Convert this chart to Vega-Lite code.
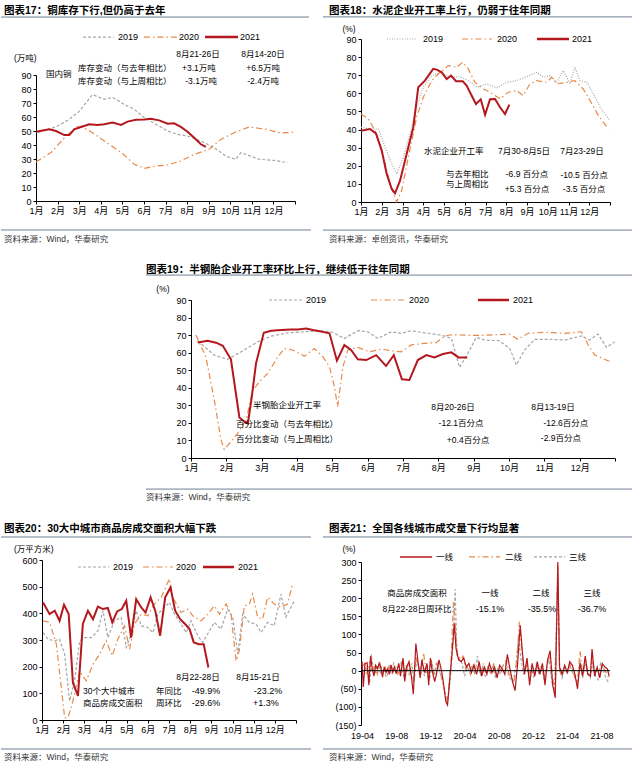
{
"$schema": "https://vega.github.io/schema/vega-lite/v6.json",
"background": "white",
"padding": {"left": 0, "top": 5, "right": 0, "bottom": 0},
"columns": 2,
"spacing": {"row": 97, "column": 65},
"bounds": "flush",
"align": "all",
"config": {
 "view": {"stroke": null},
 "axis": {"grid": false, "title": null, "labelFont": "Liberation Sans, Noto Sans CJK SC", "labelFontSize": 9, "labelColor": "#000", "domainColor": "#000", "tickColor": "#000", "tickSize": 3, "labelPadding": 2, "labelOverlap": false, "labelFlush": false},
 "text": {"font": "Liberation Sans, Noto Sans CJK SC", "fontSize": 8.5, "fill": "#000", "baseline": "middle"},
 "line": {"strokeWidth": 1.2}
},
"datasets": {
 "one": [{"k": 1}],
 "p17_2019": [{"x":0.08,"y":48.8},{"x":0.93,"y":53},{"x":1.47,"y":57.6},{"x":2.0,"y":64},{"x":2.62,"y":76},{"x":3.16,"y":72.6},{"x":3.55,"y":74},{"x":4.09,"y":69},{"x":4.55,"y":65.5},{"x":5.02,"y":59.5},{"x":5.56,"y":54.8},{"x":6.1,"y":50},{"x":6.56,"y":47.6},{"x":7.02,"y":46.4},{"x":7.64,"y":42.9},{"x":8.26,"y":38},{"x":8.8,"y":32},{"x":9.26,"y":29.8},{"x":9.49,"y":34.5},{"x":9.8,"y":32.9},{"x":10.34,"y":29.8},{"x":11.03,"y":29},{"x":11.65,"y":27.4}],
 "p17_2020": [{"x":0,"y":27.9},{"x":0.69,"y":34.5},{"x":1.31,"y":45},{"x":1.85,"y":52.9},{"x":2.16,"y":52.9},{"x":2.62,"y":48.8},{"x":3.16,"y":42.9},{"x":3.63,"y":38},{"x":4.09,"y":32.9},{"x":4.55,"y":26.2},{"x":5.02,"y":23.3},{"x":5.56,"y":25},{"x":6.1,"y":25.7},{"x":6.71,"y":28.6},{"x":7.33,"y":33.3},{"x":8.02,"y":36.9},{"x":8.56,"y":44},{"x":9.18,"y":48.8},{"x":9.88,"y":52.9},{"x":10.34,"y":51.9},{"x":10.73,"y":51.2},{"x":11.19,"y":48.8},{"x":11.65,"y":48.8},{"x":11.96,"y":49.3}],
 "p17_2021": [{"x":0,"y":49.5},{"x":0.62,"y":51.2},{"x":0.93,"y":50},{"x":1.31,"y":47.1},{"x":1.54,"y":47.1},{"x":1.77,"y":51.2},{"x":2.08,"y":52.9},{"x":2.47,"y":54.8},{"x":2.85,"y":54.3},{"x":3.16,"y":54.8},{"x":3.55,"y":56},{"x":3.94,"y":54.3},{"x":4.24,"y":56.7},{"x":4.63,"y":58.1},{"x":5.02,"y":58.3},{"x":5.32,"y":58.8},{"x":5.71,"y":57.6},{"x":6.1,"y":55.2},{"x":6.4,"y":55.5},{"x":6.71,"y":52.9},{"x":7.02,"y":49.5},{"x":7.33,"y":45.2},{"x":7.64,"y":40.5},{"x":7.87,"y":38.6}],
 "p18_2019": [{"x":0,"y":41.3},{"x":0.43,"y":40.3},{"x":0.84,"y":40.3},{"x":1.16,"y":30.2},{"x":1.48,"y":21},{"x":1.72,"y":15.5},{"x":2.04,"y":24.7},{"x":2.36,"y":37.6},{"x":2.68,"y":52.3},{"x":3.0,"y":63.4},{"x":3.41,"y":69.8},{"x":3.81,"y":71.6},{"x":4.29,"y":68.9},{"x":4.77,"y":69.2},{"x":5.17,"y":67},{"x":5.57,"y":63.4},{"x":6.06,"y":65.2},{"x":6.54,"y":63},{"x":7.02,"y":66.1},{"x":7.5,"y":67},{"x":7.98,"y":69.2},{"x":8.47,"y":71.6},{"x":8.79,"y":68.9},{"x":9.11,"y":69.8},{"x":9.43,"y":66.1},{"x":9.75,"y":72.6},{"x":10.07,"y":65.2},{"x":10.31,"y":74.4},{"x":10.55,"y":67},{"x":10.88,"y":66.1},{"x":11.2,"y":59.7},{"x":11.53,"y":52.3},{"x":12.0,"y":44.9}],
 "p18_2020": [{"x":0,"y":48.6},{"x":0.35,"y":45.9},{"x":0.72,"y":38.5},{"x":1.08,"y":24.7},{"x":1.4,"y":9.9},{"x":1.72,"y":0},{"x":1.96,"y":6.3},{"x":2.28,"y":24.7},{"x":2.68,"y":46.8},{"x":3.0,"y":57.8},{"x":3.41,"y":67},{"x":3.81,"y":71.6},{"x":4.21,"y":75.3},{"x":4.61,"y":74.4},{"x":4.9,"y":77.2},{"x":5.17,"y":73.5},{"x":5.49,"y":66.1},{"x":5.9,"y":62.4},{"x":6.22,"y":60.6},{"x":6.7,"y":56.9},{"x":7.1,"y":60.6},{"x":7.5,"y":61.5},{"x":7.82,"y":58.8},{"x":8.14,"y":65.2},{"x":8.47,"y":67},{"x":8.95,"y":66.1},{"x":9.19,"y":68.9},{"x":9.43,"y":65.2},{"x":9.91,"y":66.1},{"x":10.31,"y":67},{"x":10.71,"y":62.4},{"x":11.04,"y":56},{"x":11.44,"y":47.7},{"x":11.92,"y":40.3}],
 "p18_2021": [{"x":0,"y":39.4},{"x":0.43,"y":40.3},{"x":0.72,"y":37.9},{"x":1.0,"y":28.4},{"x":1.24,"y":15.5},{"x":1.48,"y":7.2},{"x":1.64,"y":4.8},{"x":1.88,"y":11.8},{"x":2.2,"y":26.5},{"x":2.52,"y":41.3},{"x":2.76,"y":63.4},{"x":3.08,"y":67},{"x":3.48,"y":73.5},{"x":3.65,"y":73.1},{"x":3.89,"y":71.6},{"x":4.13,"y":67.9},{"x":4.34,"y":69.8},{"x":4.58,"y":66.7},{"x":4.9,"y":66.7},{"x":5.09,"y":64.3},{"x":5.33,"y":58.8},{"x":5.54,"y":54.1},{"x":5.77,"y":56.7},{"x":5.98,"y":48.2},{"x":6.22,"y":56.7},{"x":6.46,"y":56.9},{"x":6.7,"y":52.3},{"x":6.94,"y":48.6},{"x":7.15,"y":53.8}],
 "p19_2019": [{"x":0.19,"y":66.6},{"x":0.66,"y":58.6},{"x":1.04,"y":56.2},{"x":1.42,"y":60.5},{"x":1.89,"y":66.2},{"x":2.27,"y":69.4},{"x":2.74,"y":71.3},{"x":3.21,"y":71.9},{"x":3.68,"y":72.5},{"x":3.97,"y":71.9},{"x":4.34,"y":68.1},{"x":4.72,"y":72.5},{"x":5.0,"y":71.9},{"x":5.29,"y":68.1},{"x":5.67,"y":71.9},{"x":5.95,"y":71},{"x":6.23,"y":72.5},{"x":6.61,"y":71.3},{"x":7.08,"y":70},{"x":7.37,"y":68.2},{"x":7.6,"y":51.6},{"x":7.84,"y":59.6},{"x":8.07,"y":68.7},{"x":8.31,"y":67.2},{"x":8.72,"y":66.8},{"x":9.02,"y":62.5},{"x":9.21,"y":53},{"x":9.44,"y":61.5},{"x":9.73,"y":67.6},{"x":10.1,"y":67.6},{"x":10.58,"y":67.2},{"x":11.05,"y":69.5},{"x":11.28,"y":67.2},{"x":11.52,"y":70.6},{"x":11.76,"y":63},{"x":11.99,"y":66.2}],
 "p19_2020": [{"x":0.14,"y":70},{"x":0.42,"y":57.7},{"x":0.66,"y":33},{"x":0.85,"y":10.2},{"x":0.94,"y":4.9},{"x":1.13,"y":9.3},{"x":1.32,"y":14},{"x":1.56,"y":21.6},{"x":1.75,"y":38.7},{"x":1.98,"y":44.4},{"x":2.17,"y":48.2},{"x":2.46,"y":57.7},{"x":2.64,"y":62.4},{"x":2.88,"y":61.5},{"x":3.21,"y":58},{"x":3.49,"y":62.4},{"x":3.73,"y":57.7},{"x":3.92,"y":52},{"x":4.06,"y":40.6},{"x":4.15,"y":29.2},{"x":4.3,"y":52},{"x":4.44,"y":61.5},{"x":4.72,"y":63},{"x":5.05,"y":60.5},{"x":5.38,"y":62},{"x":5.67,"y":61.1},{"x":5.95,"y":60.5},{"x":6.23,"y":64.4},{"x":6.61,"y":65.3},{"x":6.94,"y":65.7},{"x":7.18,"y":69.5},{"x":7.37,"y":70.2},{"x":7.84,"y":69.9},{"x":8.31,"y":69.9},{"x":9.02,"y":70.6},{"x":9.25,"y":67.6},{"x":9.54,"y":71},{"x":10.01,"y":71.6},{"x":10.58,"y":71},{"x":11.05,"y":71.9},{"x":11.24,"y":64.4},{"x":11.43,"y":58.7},{"x":11.8,"y":55.4},{"x":11.9,"y":54.8}],
 "p19_2021": [{"x":0.19,"y":65.8},{"x":0.47,"y":66.8},{"x":0.71,"y":65.7},{"x":0.9,"y":63.9},{"x":1.13,"y":56.2},{"x":1.37,"y":23.1},{"x":1.51,"y":20.7},{"x":1.61,"y":19.7},{"x":1.72,"y":34.9},{"x":1.84,"y":53.9},{"x":2.06,"y":71.3},{"x":2.27,"y":72.5},{"x":2.55,"y":72.9},{"x":2.83,"y":73.2},{"x":3.02,"y":73.2},{"x":3.26,"y":73.8},{"x":3.45,"y":72.9},{"x":3.68,"y":72.1},{"x":3.92,"y":71},{"x":4.13,"y":55.4},{"x":4.34,"y":64.3},{"x":4.53,"y":61.5},{"x":4.72,"y":56.2},{"x":4.96,"y":55.8},{"x":5.24,"y":58.6},{"x":5.52,"y":52.4},{"x":5.74,"y":58.6},{"x":5.97,"y":44.8},{"x":6.18,"y":44.4},{"x":6.42,"y":55.8},{"x":6.66,"y":58.6},{"x":6.89,"y":57.3},{"x":7.13,"y":59.2},{"x":7.37,"y":60.2},{"x":7.57,"y":57.3},{"x":7.82,"y":57.3}],
 "p20_2019": [{"x":0.05,"y":328},{"x":0.28,"y":303},{"x":0.6,"y":297},{"x":0.83,"y":303},{"x":1.07,"y":247},{"x":1.3,"y":71},{"x":1.54,"y":147},{"x":1.78,"y":297},{"x":2.01,"y":309},{"x":2.33,"y":309},{"x":2.64,"y":334},{"x":2.88,"y":410},{"x":3.11,"y":309},{"x":3.43,"y":372},{"x":3.74,"y":385},{"x":3.98,"y":272},{"x":4.21,"y":322},{"x":4.45,"y":410},{"x":4.69,"y":353},{"x":5.0,"y":347},{"x":5.24,"y":328},{"x":5.47,"y":397},{"x":5.79,"y":422},{"x":6.02,"y":441},{"x":6.26,"y":397},{"x":6.57,"y":360},{"x":6.81,"y":328},{"x":7.04,"y":372},{"x":7.36,"y":316},{"x":7.59,"y":291},{"x":7.91,"y":334},{"x":8.14,"y":366},{"x":8.46,"y":341},{"x":8.77,"y":416},{"x":9.01,"y":385},{"x":9.25,"y":247},{"x":9.48,"y":397},{"x":9.8,"y":366},{"x":10.11,"y":360},{"x":10.35,"y":328},{"x":10.66,"y":366},{"x":10.97,"y":353},{"x":11.29,"y":472},{"x":11.52,"y":385},{"x":11.92,"y":447}],
 "p20_2020": [{"x":0.05,"y":372},{"x":0.36,"y":366},{"x":0.68,"y":284},{"x":0.91,"y":122},{"x":1.07,"y":9},{"x":1.23,"y":9},{"x":1.46,"y":71},{"x":1.78,"y":184},{"x":2.09,"y":147},{"x":2.41,"y":209},{"x":2.72,"y":247},{"x":3.03,"y":297},{"x":3.32,"y":241},{"x":3.58,"y":303},{"x":3.9,"y":353},{"x":4.14,"y":266},{"x":4.37,"y":360},{"x":4.69,"y":397},{"x":5.0,"y":391},{"x":5.31,"y":435},{"x":5.63,"y":460},{"x":6.02,"y":529},{"x":6.18,"y":460},{"x":6.57,"y":403},{"x":6.89,"y":416},{"x":7.12,"y":391},{"x":7.52,"y":372},{"x":7.83,"y":397},{"x":8.14,"y":428},{"x":8.38,"y":397},{"x":8.7,"y":435},{"x":8.93,"y":397},{"x":9.17,"y":222},{"x":9.32,"y":259},{"x":9.56,"y":428},{"x":9.8,"y":435},{"x":9.95,"y":472},{"x":10.19,"y":385},{"x":10.42,"y":378},{"x":10.66,"y":460},{"x":10.97,"y":435},{"x":11.29,"y":422},{"x":11.6,"y":435},{"x":11.84,"y":510}],
 "p20_2021": [{"x":0.05,"y":441},{"x":0.36,"y":397},{"x":0.6,"y":410},{"x":0.83,"y":372},{"x":1.04,"y":432},{"x":1.26,"y":397},{"x":1.46,"y":140},{"x":1.7,"y":90},{"x":1.93,"y":360},{"x":2.17,"y":410},{"x":2.41,"y":378},{"x":2.64,"y":425},{"x":2.88,"y":416},{"x":3.11,"y":420},{"x":3.32,"y":366},{"x":3.55,"y":407},{"x":3.77,"y":416},{"x":3.98,"y":447},{"x":4.21,"y":309},{"x":4.45,"y":453},{"x":4.69,"y":422},{"x":4.89,"y":403},{"x":5.13,"y":460},{"x":5.35,"y":410},{"x":5.58,"y":316},{"x":5.82,"y":460},{"x":6.07,"y":497},{"x":6.29,"y":410},{"x":6.53,"y":378},{"x":6.76,"y":360},{"x":6.97,"y":341},{"x":7.17,"y":291},{"x":7.41,"y":284},{"x":7.64,"y":284},{"x":7.86,"y":197}],
 "p21_t1": [{"x":0,"y":25},{"x":0.15,"y":-45},{"x":0.35,"y":20},{"x":0.6,"y":22},{"x":0.8,"y":-40},{"x":1.0,"y":40},{"x":1.2,"y":5},{"x":1.4,"y":-15},{"x":1.6,"y":15},{"x":1.8,"y":5},{"x":2.0,"y":20},{"x":2.2,"y":8},{"x":2.4,"y":-18},{"x":2.6,"y":10},{"x":2.8,"y":-5},{"x":3.0,"y":5},{"x":3.2,"y":-10},{"x":3.4,"y":15},{"x":3.6,"y":-5},{"x":3.8,"y":10},{"x":4.0,"y":-8},{"x":4.3,"y":20},{"x":4.5,"y":-15},{"x":4.8,"y":35},{"x":5.0,"y":-30},{"x":5.2,"y":10},{"x":5.5,"y":25},{"x":5.8,"y":-20},{"x":6.0,"y":-65},{"x":6.3,"y":75},{"x":6.6,"y":15},{"x":6.8,"y":-20},{"x":7.0,"y":30},{"x":7.3,"y":-5},{"x":7.6,"y":20},{"x":7.8,"y":-40},{"x":8.0,"y":35},{"x":8.2,"y":0},{"x":8.5,"y":-30},{"x":8.7,"y":-10},{"x":9.0,"y":30},{"x":9.3,"y":0},{"x":9.5,"y":-30},{"x":9.8,"y":-85},{"x":10.0,"y":-95},{"x":10.2,"y":-40},{"x":10.5,"y":40},{"x":10.8,"y":130},{"x":11.0,"y":60},{"x":11.3,"y":30},{"x":11.6,"y":25},{"x":11.9,"y":35},{"x":12.2,"y":10},{"x":12.5,"y":20},{"x":12.8,"y":-5},{"x":13.1,"y":15},{"x":13.4,"y":-10},{"x":13.7,"y":25},{"x":14.0,"y":-15},{"x":14.3,"y":10},{"x":14.6,"y":-10},{"x":14.9,"y":20},{"x":15.2,"y":-5},{"x":15.5,"y":10},{"x":15.8,"y":-20},{"x":16.1,"y":15},{"x":16.4,"y":5},{"x":16.7,"y":-10},{"x":17.0,"y":45},{"x":17.3,"y":5},{"x":17.6,"y":-30},{"x":17.9,"y":-55},{"x":18.2,"y":20},{"x":18.5,"y":125},{"x":18.8,"y":40},{"x":19.0,"y":-10},{"x":19.3,"y":35},{"x":19.6,"y":-40},{"x":19.9,"y":20},{"x":20.2,"y":-15},{"x":20.5,"y":25},{"x":20.8,"y":-10},{"x":21.1,"y":20},{"x":21.4,"y":-40},{"x":21.7,"y":30},{"x":22.0,"y":55},{"x":22.3,"y":-40},{"x":22.6,"y":-75},{"x":22.9,"y":300},{"x":23.1,"y":10},{"x":23.4,"y":-10},{"x":23.7,"y":15},{"x":24.0,"y":-5},{"x":24.3,"y":25},{"x":24.6,"y":15},{"x":24.9,"y":-10},{"x":25.2,"y":-50},{"x":25.5,"y":20},{"x":25.8,"y":-15},{"x":26.1,"y":40},{"x":26.4,"y":-10},{"x":26.7,"y":-15},{"x":26.9,"y":60},{"x":27.2,"y":-15},{"x":27.5,"y":10},{"x":27.8,"y":-20},{"x":28.1,"y":20},{"x":28.4,"y":10},{"x":28.7,"y":5},{"x":28.9,"y":-15}],
 "p21_t2": [{"x":0,"y":10},{"x":0.3,"y":20},{"x":0.6,"y":-10},{"x":0.9,"y":25},{"x":1.2,"y":-5},{"x":1.5,"y":15},{"x":1.8,"y":-10},{"x":2.1,"y":20},{"x":2.4,"y":-5},{"x":2.7,"y":10},{"x":3.0,"y":-10},{"x":3.3,"y":20},{"x":3.6,"y":0},{"x":3.9,"y":15},{"x":4.2,"y":-10},{"x":4.5,"y":10},{"x":4.8,"y":30},{"x":5.1,"y":-15},{"x":5.4,"y":20},{"x":5.7,"y":-10},{"x":6.0,"y":-30},{"x":6.3,"y":40},{"x":6.6,"y":10},{"x":6.9,"y":-10},{"x":7.2,"y":50},{"x":7.5,"y":-5},{"x":7.8,"y":-20},{"x":8.1,"y":30},{"x":8.4,"y":-10},{"x":8.7,"y":20},{"x":9.0,"y":10},{"x":9.3,"y":-20},{"x":9.6,"y":-50},{"x":9.9,"y":-85},{"x":10.1,"y":-60},{"x":10.4,"y":20},{"x":10.7,"y":190},{"x":10.9,"y":120},{"x":11.2,"y":40},{"x":11.5,"y":30},{"x":11.8,"y":40},{"x":12.1,"y":5},{"x":12.4,"y":15},{"x":12.7,"y":-10},{"x":13.0,"y":20},{"x":13.3,"y":0},{"x":13.6,"y":15},{"x":13.9,"y":-15},{"x":14.2,"y":20},{"x":14.5,"y":-5},{"x":14.8,"y":10},{"x":15.1,"y":-10},{"x":15.4,"y":20},{"x":15.7,"y":-15},{"x":16.0,"y":10},{"x":16.3,"y":0},{"x":16.6,"y":20},{"x":16.9,"y":30},{"x":17.2,"y":-10},{"x":17.5,"y":-20},{"x":17.8,"y":-30},{"x":18.1,"y":30},{"x":18.4,"y":135},{"x":18.7,"y":50},{"x":19.0,"y":0},{"x":19.3,"y":20},{"x":19.6,"y":-20},{"x":19.9,"y":15},{"x":20.2,"y":-10},{"x":20.5,"y":15},{"x":20.8,"y":0},{"x":21.1,"y":10},{"x":21.4,"y":-20},{"x":21.7,"y":20},{"x":22.0,"y":40},{"x":22.3,"y":-20},{"x":22.6,"y":-60},{"x":22.9,"y":290},{"x":23.1,"y":0},{"x":23.4,"y":-15},{"x":23.7,"y":10},{"x":24.0,"y":0},{"x":24.3,"y":20},{"x":24.6,"y":5},{"x":24.9,"y":-20},{"x":25.2,"y":-30},{"x":25.5,"y":55},{"x":25.8,"y":-10},{"x":26.1,"y":25},{"x":26.4,"y":0},{"x":26.7,"y":-20},{"x":26.9,"y":40},{"x":27.2,"y":-10},{"x":27.5,"y":5},{"x":27.8,"y":-15},{"x":28.1,"y":15},{"x":28.4,"y":0},{"x":28.7,"y":-10},{"x":28.9,"y":-25}],
 "p21_t3": [{"x":0,"y":5},{"x":0.3,"y":-10},{"x":0.6,"y":15},{"x":0.9,"y":-35},{"x":1.1,"y":45},{"x":1.3,"y":10},{"x":1.6,"y":-5},{"x":1.9,"y":15},{"x":2.2,"y":-10},{"x":2.5,"y":5},{"x":2.8,"y":-15},{"x":3.1,"y":10},{"x":3.4,"y":-5},{"x":3.7,"y":20},{"x":4.0,"y":-10},{"x":4.3,"y":5},{"x":4.6,"y":25},{"x":4.9,"y":-20},{"x":5.2,"y":15},{"x":5.5,"y":-10},{"x":5.8,"y":20},{"x":6.1,"y":-30},{"x":6.4,"y":30},{"x":6.7,"y":0},{"x":7.0,"y":25},{"x":7.3,"y":-15},{"x":7.6,"y":15},{"x":7.9,"y":-25},{"x":8.2,"y":20},{"x":8.5,"y":-10},{"x":8.8,"y":25},{"x":9.1,"y":-5},{"x":9.4,"y":-20},{"x":9.7,"y":-60},{"x":10.0,"y":-90},{"x":10.3,"y":-30},{"x":10.6,"y":60},{"x":10.9,"y":225},{"x":11.1,"y":40},{"x":11.4,"y":35},{"x":11.7,"y":20},{"x":12.0,"y":-15},{"x":12.3,"y":10},{"x":12.6,"y":-5},{"x":12.9,"y":15},{"x":13.2,"y":-10},{"x":13.5,"y":40},{"x":13.8,"y":-10},{"x":14.1,"y":10},{"x":14.4,"y":-15},{"x":14.7,"y":10},{"x":15.0,"y":-5},{"x":15.3,"y":15},{"x":15.6,"y":-20},{"x":15.9,"y":5},{"x":16.2,"y":-10},{"x":16.5,"y":15},{"x":16.8,"y":20},{"x":17.1,"y":-10},{"x":17.4,"y":-25},{"x":17.7,"y":-30},{"x":18.0,"y":15},{"x":18.3,"y":90},{"x":18.6,"y":30},{"x":18.9,"y":-10},{"x":19.2,"y":15},{"x":19.5,"y":-15},{"x":19.8,"y":10},{"x":20.1,"y":-20},{"x":20.4,"y":20},{"x":20.7,"y":-10},{"x":21.0,"y":15},{"x":21.3,"y":-25},{"x":21.6,"y":15},{"x":21.9,"y":30},{"x":22.2,"y":-30},{"x":22.5,"y":-55},{"x":22.9,"y":260},{"x":23.1,"y":5},{"x":23.4,"y":-20},{"x":23.7,"y":10},{"x":24.0,"y":-10},{"x":24.3,"y":15},{"x":24.6,"y":-5},{"x":24.9,"y":-15},{"x":25.2,"y":-35},{"x":25.5,"y":30},{"x":25.8,"y":-20},{"x":26.1,"y":20},{"x":26.4,"y":-5},{"x":26.7,"y":-20},{"x":27.0,"y":25},{"x":27.3,"y":-15},{"x":27.6,"y":-25},{"x":27.9,"y":20},{"x":28.2,"y":5},{"x":28.5,"y":-20},{"x":28.9,"y":-35}]
},
"concat": [
{
 "width": 260, "height": 162,
 "resolve": {"axis": {"x": "independent", "y": "independent"}},
 "layer": [
  {
   "encoding": {
    "x": {"field": "x", "type": "quantitative", "title": null, "scale": {"domain": [0, 12], "range": [0, 259], "nice": false, "zero": false}, "axis": {"values": [0,1,2,3,4,5,6,7,8,9,10,11,12], "labelExpr": "datum.value < 12 ? (datum.value + 1) + '月' : ''", "labelAngle": 0, "labelOverlap": false}},
    "y": {"field": "y", "type": "quantitative", "title": null, "scale": {"domain": [0, 90], "range": [162, 36], "nice": false, "zero": false}, "axis": {"values": [0,10,20,30,40,50,60,70,80,90], "labelOverlap": false}}
   },
   "layer": [
    {"data": {"name": "p17_2019"}, "mark": {"type": "line", "stroke": "#A6A6A6", "strokeDash": [3, 2]}},
    {"data": {"name": "p17_2020"}, "mark": {"type": "line", "stroke": "#E8894A", "strokeDash": [6, 3, 1.5, 3]}},
    {"data": {"name": "p17_2021"}, "mark": {"type": "line", "stroke": "#B4171D", "strokeWidth": 2}}
   ]
  },
  {
   "data": {"name": "one"},
   "layer": [
    {"mark": {"type": "rule", "stroke": "#A6A6A6", "strokeDash": [3, 2], "strokeWidth": 1.2}, "encoding": {"x": {"datum": 2.18, "axis": null}, "x2": {"datum": 3.61}, "y": {"datum": 117.1, "axis": null}}},
    {"mark": {"type": "rule", "stroke": "#E8894A", "strokeDash": [6, 3, 1.5, 3], "strokeWidth": 1.2}, "encoding": {"x": {"datum": 5.0, "axis": null}, "x2": {"datum": 6.58}, "y": {"datum": 117.1, "axis": null}}},
    {"mark": {"type": "rule", "stroke": "#B4171D", "strokeWidth": 2.5}, "encoding": {"x": {"datum": 7.83, "axis": null}, "x2": {"datum": 9.36}, "y": {"datum": 117.1, "axis": null}}},
    {"mark": {"type": "text", "text": "2019", "align": "left", "fontSize": 9}, "encoding": {"x": {"datum": 3.8, "axis": null}, "y": {"datum": 117.1, "axis": null}}},
    {"mark": {"type": "text", "text": "2020", "align": "left", "fontSize": 9}, "encoding": {"x": {"datum": 6.63, "axis": null}, "y": {"datum": 117.1, "axis": null}}},
    {"mark": {"type": "text", "text": "2021", "align": "left", "fontSize": 9}, "encoding": {"x": {"datum": 9.45, "axis": null}, "y": {"datum": 117.1, "axis": null}}},
    {"mark": {"type": "text", "text": "(万吨)", "align": "left"}, "encoding": {"x": {"datum": -1.02, "axis": null}, "y": {"datum": 102.1, "axis": null}}},
    {"mark": {"type": "text", "text": "国内铜", "align": "left"}, "encoding": {"x": {"datum": 0.46, "axis": null}, "y": {"datum": 90.7, "axis": null}}},
    {"mark": {"type": "text", "text": "库存变动（与去年相比）", "align": "left"}, "encoding": {"x": {"datum": 1.95, "axis": null}, "y": {"datum": 95, "axis": null}}},
    {"mark": {"type": "text", "text": "库存变动（与上周相比）", "align": "left"}, "encoding": {"x": {"datum": 1.95, "axis": null}, "y": {"datum": 85.7, "axis": null}}},
    {"mark": {"type": "text", "text": "8月21-26日", "align": "center"}, "encoding": {"x": {"datum": 7.51, "axis": null}, "y": {"datum": 105, "axis": null}}},
    {"mark": {"type": "text", "text": "+3.1万吨", "align": "center"}, "encoding": {"x": {"datum": 7.55, "axis": null}, "y": {"datum": 95, "axis": null}}},
    {"mark": {"type": "text", "text": "-3.1万吨", "align": "center"}, "encoding": {"x": {"datum": 7.65, "axis": null}, "y": {"datum": 85.7, "axis": null}}},
    {"mark": {"type": "text", "text": "8月14-20日", "align": "center"}, "encoding": {"x": {"datum": 10.52, "axis": null}, "y": {"datum": 105, "axis": null}}},
    {"mark": {"type": "text", "text": "+6.5万吨", "align": "center"}, "encoding": {"x": {"datum": 10.52, "axis": null}, "y": {"datum": 95, "axis": null}}},
    {"mark": {"type": "text", "text": "-2.4万吨", "align": "center"}, "encoding": {"x": {"datum": 10.52, "axis": null}, "y": {"datum": 85.7, "axis": null}}},
    {"mark": {"type": "text", "text": "图表17：铜库存下行,但仍高于去年", "align": "left", "fontSize": 10.5, "fontWeight": "bold"}, "encoding": {"x": {"datum": -1.483, "axis": null}, "y": {"datum": 135.7, "axis": null}}},
    {"mark": {"type": "rule", "stroke": "#6E7F96", "strokeWidth": 1}, "encoding": {"x": {"datum": -1.622, "axis": null}, "x2": {"datum": 12.65}, "y": {"datum": 131.4, "axis": null}}},
    {"mark": {"type": "rule", "stroke": "#6E7F96", "strokeWidth": 1}, "encoding": {"x": {"datum": -1.622, "axis": null}, "x2": {"datum": 12.74}, "y": {"datum": -20.7, "axis": null}}},
    {"mark": {"type": "text", "text": "资料来源：Wind，华泰研究", "align": "left", "fill": "#333333"}, "encoding": {"x": {"datum": -1.483, "axis": null}, "y": {"datum": -26.8, "axis": null}}}
   ]
  }
 ]
},
{
 "width": 249, "height": 163,
 "resolve": {"axis": {"x": "independent", "y": "independent"}},
 "layer": [
  {
   "encoding": {
    "x": {"field": "x", "type": "quantitative", "title": null, "scale": {"domain": [0, 12], "nice": false, "zero": false}, "axis": {"values": [0,1,2,3,4,5,6,7,8,9,10,11,12], "labelExpr": "datum.value < 12 ? (datum.value + 1) + '月' : ''", "labelAngle": 0, "labelOverlap": false}},
    "y": {"field": "y", "type": "quantitative", "title": null, "scale": {"domain": [0, 90], "nice": false, "zero": false}, "axis": {"values": [0,10,20,30,40,50,60,70,80,90], "labelOverlap": false}}
   },
   "layer": [
    {"data": {"name": "p18_2019"}, "mark": {"type": "line", "stroke": "#A6A6A6", "strokeDash": [1, 1.5]}},
    {"data": {"name": "p18_2020"}, "mark": {"type": "line", "stroke": "#E8894A", "strokeDash": [6, 3, 1.5, 3]}},
    {"data": {"name": "p18_2021"}, "mark": {"type": "line", "stroke": "#B4171D", "strokeWidth": 2}}
   ]
  },
  {
   "data": {"name": "one"},
   "layer": [
    {"mark": {"type": "rule", "stroke": "#A6A6A6", "strokeDash": [1, 1.5], "strokeWidth": 1.2}, "encoding": {"x": {"datum": 1.253, "axis": null}, "x2": {"datum": 2.699}, "y": {"datum": 90, "axis": null}}},
    {"mark": {"type": "rule", "stroke": "#E8894A", "strokeDash": [6, 3, 1.5, 3], "strokeWidth": 1.2}, "encoding": {"x": {"datum": 4.867, "axis": null}, "x2": {"datum": 6.313}, "y": {"datum": 90, "axis": null}}},
    {"mark": {"type": "rule", "stroke": "#B4171D", "strokeWidth": 2.5}, "encoding": {"x": {"datum": 8.482, "axis": null}, "x2": {"datum": 10.024}, "y": {"datum": 90, "axis": null}}},
    {"mark": {"type": "text", "text": "2019", "align": "left", "fontSize": 9}, "encoding": {"x": {"datum": 2.988, "axis": null}, "y": {"datum": 90, "axis": null}}},
    {"mark": {"type": "text", "text": "2020", "align": "left", "fontSize": 9}, "encoding": {"x": {"datum": 6.554, "axis": null}, "y": {"datum": 90, "axis": null}}},
    {"mark": {"type": "text", "text": "2021", "align": "left", "fontSize": 9}, "encoding": {"x": {"datum": 10.169, "axis": null}, "y": {"datum": 90, "axis": null}}},
    {"mark": {"type": "text", "text": "(%)", "align": "center"}, "encoding": {"x": {"datum": -0.578, "axis": null}, "y": {"datum": 95.5, "axis": null}}},
    {"mark": {"type": "text", "text": "水泥企业开工率", "align": "left"}, "encoding": {"x": {"datum": 3.036, "axis": null}, "y": {"datum": 28.2, "axis": null}}},
    {"mark": {"type": "text", "text": "7月30-8月5日", "align": "center"}, "encoding": {"x": {"datum": 7.855, "axis": null}, "y": {"datum": 28.2, "axis": null}}},
    {"mark": {"type": "text", "text": "7月23-29日", "align": "center"}, "encoding": {"x": {"datum": 10.65, "axis": null}, "y": {"datum": 28.2, "axis": null}}},
    {"mark": {"type": "text", "text": "与去年相比", "align": "left"}, "encoding": {"x": {"datum": 4.096, "axis": null}, "y": {"datum": 15.5, "axis": null}}},
    {"mark": {"type": "text", "text": "与上周相比", "align": "left"}, "encoding": {"x": {"datum": 4.096, "axis": null}, "y": {"datum": 9.9, "axis": null}}},
    {"mark": {"type": "text", "text": "-6.9 百分点", "align": "center"}, "encoding": {"x": {"datum": 8.0, "axis": null}, "y": {"datum": 15.5, "axis": null}}},
    {"mark": {"type": "text", "text": "+5.3 百分点", "align": "center"}, "encoding": {"x": {"datum": 8.0, "axis": null}, "y": {"datum": 7.2, "axis": null}}},
    {"mark": {"type": "text", "text": "-10.5 百分点", "align": "center"}, "encoding": {"x": {"datum": 10.75, "axis": null}, "y": {"datum": 15, "axis": null}}},
    {"mark": {"type": "text", "text": "-3.5 百分点", "align": "center"}, "encoding": {"x": {"datum": 10.75, "axis": null}, "y": {"datum": 7, "axis": null}}},
    {"mark": {"type": "text", "text": "图表18：水泥企业开工率上行，仍弱于往年同期", "align": "left", "fontSize": 10.5, "fontWeight": "bold"}, "encoding": {"x": {"datum": -1.542, "axis": null}, "y": {"datum": 105.5, "axis": null}}},
    {"mark": {"type": "rule", "stroke": "#6E7F96", "strokeWidth": 1}, "encoding": {"x": {"datum": -1.831, "axis": null}, "x2": {"datum": 13.11}, "y": {"datum": 102.2, "axis": null}}},
    {"mark": {"type": "rule", "stroke": "#6E7F96", "strokeWidth": 1}, "encoding": {"x": {"datum": -1.831, "axis": null}, "x2": {"datum": 13.11}, "y": {"datum": -15.5, "axis": null}}},
    {"mark": {"type": "text", "text": "资料来源：卓创资讯，华泰研究", "align": "left", "fill": "#333333"}, "encoding": {"x": {"datum": -1.542, "axis": null}, "y": {"datum": -20.2, "axis": null}}}
   ]
  }
 ]
},
{
 "width": 260, "height": 158,
 "resolve": {"axis": {"x": "independent", "y": "independent"}},
 "layer": [
  {
   "encoding": {
    "x": {"field": "x", "type": "quantitative", "title": null, "scale": {"domain": [0, 12], "range": [155, 579], "nice": false, "zero": false}, "axis": {"values": [0,1,2,3,4,5,6,7,8,9,10,11,12], "labelExpr": "datum.value < 12 ? (datum.value + 1) + '月' : ''", "labelAngle": 0, "labelOverlap": false}},
    "y": {"field": "y", "type": "quantitative", "title": null, "scale": {"domain": [0, 90], "nice": false, "zero": false}, "axis": {"values": [0,10,20,30,40,50,60,70,80,90], "offset": -155, "labelOverlap": false}}
   },
   "layer": [
    {"data": {"name": "p19_2019"}, "mark": {"type": "line", "stroke": "#A6A6A6", "strokeDash": [3, 2]}},
    {"data": {"name": "p19_2020"}, "mark": {"type": "line", "stroke": "#E8894A", "strokeDash": [6, 3, 1.5, 3]}},
    {"data": {"name": "p19_2021"}, "mark": {"type": "line", "stroke": "#B4171D", "strokeWidth": 2}}
   ]
  },
  {
   "data": {"name": "one"},
   "layer": [
    {"mark": {"type": "rule", "stroke": "#A6A6A6", "strokeDash": [3, 2], "strokeWidth": 1.2}, "encoding": {"x": {"datum": 2.208, "axis": null}, "x2": {"datum": 3.17}, "y": {"datum": 90, "axis": null}}},
    {"mark": {"type": "rule", "stroke": "#E8894A", "strokeDash": [6, 3, 1.5, 3], "strokeWidth": 1.2}, "encoding": {"x": {"datum": 5.095, "axis": null}, "x2": {"datum": 6.057}, "y": {"datum": 90, "axis": null}}},
    {"mark": {"type": "rule", "stroke": "#B4171D", "strokeWidth": 2.5}, "encoding": {"x": {"datum": 8.123, "axis": null}, "x2": {"datum": 9.0}, "y": {"datum": 90, "axis": null}}},
    {"mark": {"type": "text", "text": "2019", "align": "left", "fontSize": 9}, "encoding": {"x": {"datum": 3.255, "axis": null}, "y": {"datum": 90, "axis": null}}},
    {"mark": {"type": "text", "text": "2020", "align": "left", "fontSize": 9}, "encoding": {"x": {"datum": 6.17, "axis": null}, "y": {"datum": 90, "axis": null}}},
    {"mark": {"type": "text", "text": "2021", "align": "left", "fontSize": 9}, "encoding": {"x": {"datum": 9.114, "axis": null}, "y": {"datum": 90, "axis": null}}},
    {"mark": {"type": "text", "text": "(%)", "align": "center"}, "encoding": {"x": {"datum": -0.793, "axis": null}, "y": {"datum": 96.2, "axis": null}}},
    {"mark": {"type": "text", "text": "半钢胎企业开工率", "align": "left"}, "encoding": {"x": {"datum": 1.755, "axis": null}, "y": {"datum": 30.2, "axis": null}}},
    {"mark": {"type": "text", "text": "百分比变动（与去年相比）", "align": "left"}, "encoding": {"x": {"datum": 1.274, "axis": null}, "y": {"datum": 19.4, "axis": null}}},
    {"mark": {"type": "text", "text": "百分比变动（与上周相比）", "align": "left"}, "encoding": {"x": {"datum": 1.274, "axis": null}, "y": {"datum": 10.8, "axis": null}}},
    {"mark": {"type": "text", "text": "8月20-26日", "align": "center"}, "encoding": {"x": {"datum": 7.416, "axis": null}, "y": {"datum": 29, "axis": null}}},
    {"mark": {"type": "text", "text": "-12.1百分点", "align": "center"}, "encoding": {"x": {"datum": 7.642, "axis": null}, "y": {"datum": 19.9, "axis": null}}},
    {"mark": {"type": "text", "text": "+0.4百分点", "align": "center"}, "encoding": {"x": {"datum": 7.84, "axis": null}, "y": {"datum": 10.3, "axis": null}}},
    {"mark": {"type": "text", "text": "8月13-19日", "align": "center"}, "encoding": {"x": {"datum": 10.246, "axis": null}, "y": {"datum": 29, "axis": null}}},
    {"mark": {"type": "text", "text": "-12.6百分点", "align": "center"}, "encoding": {"x": {"datum": 10.61, "axis": null}, "y": {"datum": 19.9, "axis": null}}},
    {"mark": {"type": "text", "text": "-2.9百分点", "align": "center"}, "encoding": {"x": {"datum": 10.47, "axis": null}, "y": {"datum": 11.4, "axis": null}}},
    {"mark": {"type": "text", "text": "图表19：半钢胎企业开工率环比上行，继续低于往年同期", "align": "left", "fontSize": 10.5, "fontWeight": "bold"}, "encoding": {"x": {"datum": -1.274, "axis": null}, "y": {"datum": 107.1, "axis": null}}},
    {"mark": {"type": "rule", "stroke": "#6E7F96", "strokeWidth": 1}, "encoding": {"x": {"datum": -1.274, "axis": null}, "x2": {"datum": 12.51}, "y": {"datum": 104.2, "axis": null}}},
    {"mark": {"type": "rule", "stroke": "#6E7F96", "strokeWidth": 1}, "encoding": {"x": {"datum": -1.274, "axis": null}, "x2": {"datum": 12.51}, "y": {"datum": -17.7, "axis": null}}},
    {"mark": {"type": "text", "text": "资料来源：Wind，华泰研究", "align": "left", "fill": "#333333"}, "encoding": {"x": {"datum": -1.274, "axis": null}, "y": {"datum": -22.2, "axis": null}}}
   ]
  }
 ]
},
{
 "width": 10, "height": 162,
 "data": {"name": "one"},
 "mark": {"type": "text", "text": ""},
 "encoding": {}
},
{
 "width": 260, "height": 159,
 "resolve": {"axis": {"x": "independent", "y": "independent"}},
 "layer": [
  {
   "encoding": {
    "x": {"field": "x", "type": "quantitative", "title": null, "scale": {"domain": [0, 12], "range": [6, 260], "nice": false, "zero": false}, "axis": {"values": [0,1,2,3,4,5,6,7,8,9,10,11,12], "labelExpr": "datum.value < 12 ? (datum.value + 1) + '月' : ''", "labelAngle": 0, "labelOverlap": false}},
    "y": {"field": "y", "type": "quantitative", "title": null, "scale": {"domain": [0, 600], "range": [159, -1], "nice": false, "zero": false}, "axis": {"values": [0,100,200,300,400,500,600], "offset": -6, "labelOverlap": false}}
   },
   "layer": [
    {"data": {"name": "p20_2019"}, "mark": {"type": "line", "stroke": "#A6A6A6", "strokeDash": [3, 2]}},
    {"data": {"name": "p20_2020"}, "mark": {"type": "line", "stroke": "#E8894A", "strokeDash": [6, 3, 1.5, 3]}},
    {"data": {"name": "p20_2021"}, "mark": {"type": "line", "stroke": "#B4171D", "strokeWidth": 2}}
   ]
  },
  {
   "data": {"name": "one"},
   "layer": [
    {"mark": {"type": "rule", "stroke": "#A6A6A6", "strokeDash": [3, 2], "strokeWidth": 1.2}, "encoding": {"x": {"datum": 1.7, "axis": null}, "x2": {"datum": 3.165}, "y": {"datum": 573.7, "axis": null}}},
    {"mark": {"type": "rule", "stroke": "#E8894A", "strokeDash": [6, 3, 1.5, 3], "strokeWidth": 1.2}, "encoding": {"x": {"datum": 4.771, "axis": null}, "x2": {"datum": 6.188}, "y": {"datum": 573.7, "axis": null}}},
    {"mark": {"type": "rule", "stroke": "#B4171D", "strokeWidth": 2.5}, "encoding": {"x": {"datum": 7.605, "axis": null}, "x2": {"datum": 9.07}, "y": {"datum": 573.7, "axis": null}}},
    {"mark": {"type": "text", "text": "2019", "align": "left", "fontSize": 9}, "encoding": {"x": {"datum": 3.354, "axis": null}, "y": {"datum": 573.7, "axis": null}}},
    {"mark": {"type": "text", "text": "2020", "align": "left", "fontSize": 9}, "encoding": {"x": {"datum": 6.33, "axis": null}, "y": {"datum": 573.7, "axis": null}}},
    {"mark": {"type": "text", "text": "2021", "align": "left", "fontSize": 9}, "encoding": {"x": {"datum": 9.258, "axis": null}, "y": {"datum": 573.7, "axis": null}}},
    {"mark": {"type": "text", "text": "(万平方米)", "align": "left"}, "encoding": {"x": {"datum": -1.323, "axis": null}, "y": {"datum": 641.2, "axis": null}}},
    {"mark": {"type": "text", "text": "8月22-28日", "align": "center"}, "encoding": {"x": {"datum": 7.369, "axis": null}, "y": {"datum": 161.2, "axis": null}}},
    {"mark": {"type": "text", "text": "8月15-21日", "align": "center"}, "encoding": {"x": {"datum": 10.2, "axis": null}, "y": {"datum": 161.2, "axis": null}}},
    {"mark": {"type": "text", "text": "30个大中城市", "align": "left"}, "encoding": {"x": {"datum": 1.937, "axis": null}, "y": {"datum": 108.7, "axis": null}}},
    {"mark": {"type": "text", "text": "商品房成交面积", "align": "left"}, "encoding": {"x": {"datum": 1.937, "axis": null}, "y": {"datum": 63.7, "axis": null}}},
    {"mark": {"type": "text", "text": "年同比", "align": "left"}, "encoding": {"x": {"datum": 5.385, "axis": null}, "y": {"datum": 108.7, "axis": null}}},
    {"mark": {"type": "text", "text": "周环比", "align": "left"}, "encoding": {"x": {"datum": 5.385, "axis": null}, "y": {"datum": 63.7, "axis": null}}},
    {"mark": {"type": "text", "text": "-49.9%", "align": "center", "fontSize": 9}, "encoding": {"x": {"datum": 7.747, "axis": null}, "y": {"datum": 108.7, "axis": null}}},
    {"mark": {"type": "text", "text": "-29.6%", "align": "center", "fontSize": 9}, "encoding": {"x": {"datum": 7.747, "axis": null}, "y": {"datum": 63.7, "axis": null}}},
    {"mark": {"type": "text", "text": "-23.2%", "align": "center", "fontSize": 9}, "encoding": {"x": {"datum": 10.676, "axis": null}, "y": {"datum": 108.7, "axis": null}}},
    {"mark": {"type": "text", "text": "+1.3%", "align": "center", "fontSize": 9}, "encoding": {"x": {"datum": 10.58, "axis": null}, "y": {"datum": 63.7, "axis": null}}},
    {"mark": {"type": "text", "text": "图表20：30大中城市商品房成交面积大幅下跌", "align": "left", "fontSize": 10.5, "fontWeight": "bold"}, "encoding": {"x": {"datum": -1.795, "axis": null}, "y": {"datum": 716.2, "axis": null}}},
    {"mark": {"type": "rule", "stroke": "#6E7F96", "strokeWidth": 1}, "encoding": {"x": {"datum": -1.937, "axis": null}, "x2": {"datum": 12.71}, "y": {"datum": 686.2, "axis": null}}},
    {"mark": {"type": "rule", "stroke": "#6E7F96", "strokeWidth": 1}, "encoding": {"x": {"datum": -1.937, "axis": null}, "x2": {"datum": 12.71}, "y": {"datum": -108.7, "axis": null}}},
    {"mark": {"type": "text", "text": "资料来源：Wind，华泰研究", "align": "left", "fill": "#333333"}, "encoding": {"x": {"datum": -1.795, "axis": null}, "y": {"datum": -138.7, "axis": null}}}
   ]
  }
 ]
},
{
 "width": 249, "height": 164,
 "resolve": {"axis": {"x": "independent", "y": "independent"}},
 "layer": [
  {
   "encoding": {
    "x": {"field": "x", "type": "quantitative", "title": null, "scale": {"domain": [0, 29], "range": [1, 249], "nice": false, "zero": false}, "axis": {"values": [0,4,8,12,16,20,24,28], "labelExpr": "['19-04','19-08','19-12','20-04','20-08','20-12','21-04','21-08'][datum.value / 4]", "labelAngle": 0, "domain": false, "ticks": false, "labelPadding": 6, "labelOverlap": false}},
    "y": {"field": "y", "type": "quantitative", "title": null, "scale": {"domain": [-150, 300], "range": [164, 1], "nice": false, "zero": false}, "axis": {"values": [-150,-100,-50,0,50,100,150,200,250,300], "labelExpr": "datum.value < 0 ? '(' + (-datum.value) + ')' : '' + datum.value", "labelOverlap": false}}
   },
   "layer": [
    {"data": {"name": "p21_t3"}, "mark": {"type": "line", "stroke": "#A6A6A6", "strokeDash": [3, 2]}},
    {"data": {"name": "p21_t2"}, "mark": {"type": "line", "stroke": "#E8894A", "strokeDash": [6, 3, 1.5, 3]}},
    {"data": {"name": "p21_t1"}, "mark": {"type": "line", "stroke": "#B4171D", "strokeWidth": 1.2}}
   ]
  },
  {
   "data": {"name": "one"},
   "layer": [
    {"mark": {"type": "rule", "stroke": "#000000", "strokeWidth": 1}, "encoding": {"x": {"datum": 0, "axis": null}, "x2": {"datum": 29}, "y": {"datum": 0, "axis": null}}},
    {"mark": {"type": "rule", "stroke": "#B4171D", "strokeWidth": 1.5}, "encoding": {"x": {"datum": 4.443, "axis": null}, "x2": {"datum": 8.185}, "y": {"datum": 313.9, "axis": null}}},
    {"mark": {"type": "rule", "stroke": "#E8894A", "strokeDash": [6, 3, 1.5, 3], "strokeWidth": 1.2}, "encoding": {"x": {"datum": 12.51, "axis": null}, "x2": {"datum": 16.14}, "y": {"datum": 313.9, "axis": null}}},
    {"mark": {"type": "rule", "stroke": "#A6A6A6", "strokeDash": [3, 2], "strokeWidth": 1.2}, "encoding": {"x": {"datum": 20.11, "axis": null}, "x2": {"datum": 23.74}, "y": {"datum": 313.9, "axis": null}}},
    {"mark": {"type": "text", "text": "一线", "align": "left"}, "encoding": {"x": {"datum": 8.653, "axis": null}, "y": {"datum": 313.9, "axis": null}}},
    {"mark": {"type": "text", "text": "二线", "align": "left"}, "encoding": {"x": {"datum": 16.72, "axis": null}, "y": {"datum": 313.9, "axis": null}}},
    {"mark": {"type": "text", "text": "三线", "align": "left"}, "encoding": {"x": {"datum": 24.2, "axis": null}, "y": {"datum": 313.9, "axis": null}}},
    {"mark": {"type": "text", "text": "(%)", "align": "center"}, "encoding": {"x": {"datum": -1.52, "axis": null}, "y": {"datum": 336, "axis": null}}},
    {"mark": {"type": "text", "text": "商品房成交面积", "align": "center"}, "encoding": {"x": {"datum": 6.431, "axis": null}, "y": {"datum": 214.5, "axis": null}}},
    {"mark": {"type": "text", "text": "8月22-28日周环比", "align": "center"}, "encoding": {"x": {"datum": 6.431, "axis": null}, "y": {"datum": 170.3, "axis": null}}},
    {"mark": {"type": "text", "text": "一线", "align": "center"}, "encoding": {"x": {"datum": 14.97, "axis": null}, "y": {"datum": 214.5, "axis": null}}},
    {"mark": {"type": "text", "text": "-15.1%", "align": "center", "fontSize": 9}, "encoding": {"x": {"datum": 14.97, "axis": null}, "y": {"datum": 170.3, "axis": null}}},
    {"mark": {"type": "text", "text": "二线", "align": "center"}, "encoding": {"x": {"datum": 20.93, "axis": null}, "y": {"datum": 214.5, "axis": null}}},
    {"mark": {"type": "text", "text": "-35.5%", "align": "center", "fontSize": 9}, "encoding": {"x": {"datum": 21.05, "axis": null}, "y": {"datum": 170.3, "axis": null}}},
    {"mark": {"type": "text", "text": "三线", "align": "center"}, "encoding": {"x": {"datum": 26.89, "axis": null}, "y": {"datum": 214.5, "axis": null}}},
    {"mark": {"type": "text", "text": "-36.7%", "align": "center", "fontSize": 9}, "encoding": {"x": {"datum": 26.89, "axis": null}, "y": {"datum": 170.3, "axis": null}}},
    {"mark": {"type": "text", "text": "图表21：全国各线城市成交量下行均显著", "align": "left", "fontSize": 10.5, "fontWeight": "bold"}, "encoding": {"x": {"datum": -3.859, "axis": null}, "y": {"datum": 391.2, "axis": null}}},
    {"mark": {"type": "rule", "stroke": "#6E7F96", "strokeWidth": 1}, "encoding": {"x": {"datum": -4.56, "axis": null}, "x2": {"datum": 31.69}, "y": {"datum": 369.1, "axis": null}}},
    {"mark": {"type": "rule", "stroke": "#6E7F96", "strokeWidth": 1}, "encoding": {"x": {"datum": -4.56, "axis": null}, "x2": {"datum": 31.69}, "y": {"datum": -216.2, "axis": null}}},
    {"mark": {"type": "text", "text": "资料来源：Wind，华泰研究", "align": "left", "fill": "#333333"}, "encoding": {"x": {"datum": -3.859, "axis": null}, "y": {"datum": -238.3, "axis": null}}}
   ]
  }
 ]
}
]
}
